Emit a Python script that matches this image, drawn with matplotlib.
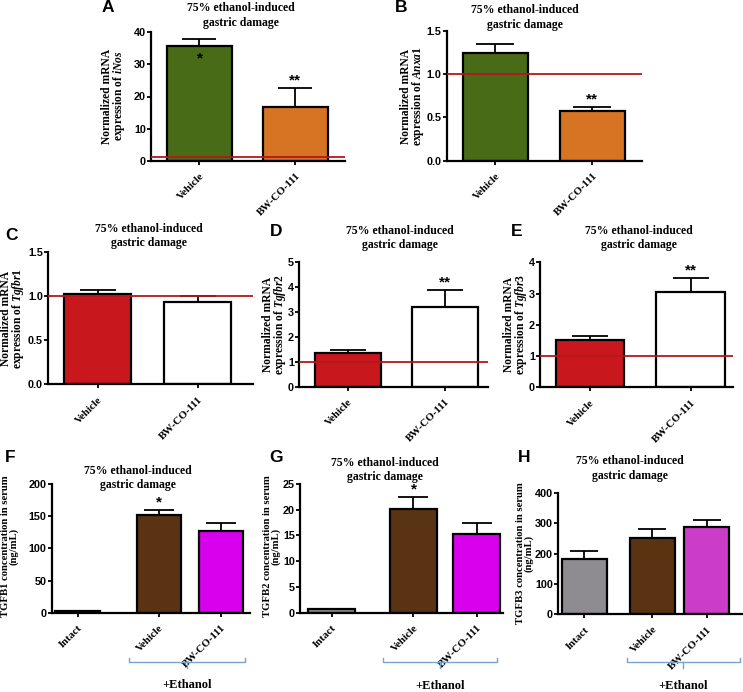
import matplotlib
matplotlib.use('Agg')
import matplotlib.pyplot as plt
import matplotlib.transforms as mtransforms

plt.rcParams['mathtext.fontset'] = 'custom'
plt.rcParams['mathtext.it'] = 'Liberation Serif:italic:bold'
plt.rcParams['mathtext.rm'] = 'Liberation Serif:bold'

SERIF = 'Liberation Serif'
SANS = 'Liberation Sans'

# ---------------- data ----------------
groups_2 = ["Vehicle", "BW-CO-111"]
groups_3 = ["Intact", "Vehicle", "BW-CO-111"]

inos_mean = [35.6, 16.6]
inos_sem = [2.4, 6.1]
anxa1_mean = [1.25, 0.575]
anxa1_sem = [0.10, 0.042]
tgfbr1_mean = [1.018, 0.928]
tgfbr1_sem = [0.049, 0.07]
tgfbr2_mean = [1.35, 3.20]
tgfbr2_sem = [0.12, 0.66]
tgfbr3_mean = [1.51, 3.04]
tgfbr3_sem = [0.14, 0.46]
tgfb1_mean = [2.6, 151.8, 127.0]
tgfb1_sem = [0.0, 8.0, 13.0]
tgfb2_mean = [0.66, 20.1, 15.2]
tgfb2_sem = [0.0, 2.3, 2.2]
tgfb3_mean = [183, 250, 289]
tgfb3_sem = [24, 30, 22]

reference_level = 1.0
title_text = "75% ethanol-induced\ngastric damage"

W, H = 743, 692
fig = plt.figure(figsize=(W / 100, H / 100), dpi=100)


def add_ax(left, right, top, bottom):
    return fig.add_axes([left / W, 1 - bottom / H, (right - left) / W, (bottom - top) / H])


def fx(x):
    return x / W


def fy(y):
    return 1 - y / H


def panel(box, pos, width, xlim, labels, means, sems, colors, ylim, yticks, ylab,
          ylab_xy, title_xy, letter, letter_xy, refline=False, stars=None,
          inside_star=None, capsize=12, bracket=None, ylab_size=8.3, ylab_ls=0.9):
    ax = add_ax(*box)
    ax.bar(pos, means, width=width, color=colors, edgecolor='black', linewidth=1.6, zorder=2)
    ax.errorbar(pos, means, yerr=[[0] * len(means), sems], fmt='none', ecolor='black',
                elinewidth=1.3, capsize=capsize, capthick=1.3, zorder=1)
    if refline:
        ax.axhline(reference_level, color='#b5161c', lw=1.3, zorder=3)
    ax.set_xlim(*xlim)
    ax.set_ylim(*ylim)
    ax.set_yticks(yticks)
    ax.set_xticks(pos)
    ax.set_xticklabels(labels, rotation=45, ha='right', va='top', rotation_mode='anchor',
                       fontfamily=SERIF, fontweight='bold', fontsize=7.8)
    for lab in ax.get_yticklabels():
        lab.set_fontfamily(SANS)
        lab.set_fontweight('bold')
        lab.set_fontsize(7.8)
    ax.tick_params(axis='both', direction='out', length=2.8, width=1.3, pad=0.8)
    ax.tick_params(axis='x', pad=5)
    for s in ['top', 'right']:
        ax.spines[s].set_visible(False)
    for s in ['left', 'bottom']:
        ax.spines[s].set_linewidth(1.6)
    ax.patch.set_alpha(0)
    if stars:
        for i, st in stars:
            ax.annotate(st, (pos[i], means[i] + sems[i]), xytext=(0, 0.5),
                        textcoords='offset points', ha='center', va='bottom',
                        fontfamily=SANS, fontweight='bold', fontsize=11)
    if inside_star is not None:
        i, st = inside_star
        ax.annotate(st, (pos[i], means[i]), xytext=(0, -14), textcoords='offset points',
                    ha='center', va='bottom', fontfamily=SANS, fontweight='bold', fontsize=11)
    fig.text(fx(ylab_xy[0]), fy(ylab_xy[1]), ylab, rotation=90, ha='center', va='center',
             fontfamily=SERIF, fontweight='bold', fontsize=ylab_size, linespacing=ylab_ls)
    fig.text(fx(title_xy[0]), fy(title_xy[1]), title_text, ha='center', va='center',
             fontfamily=SERIF, fontweight='bold', fontsize=8.5, linespacing=1.3)
    fig.text(fx(letter_xy[0]), fy(letter_xy[1]), letter, ha='center', va='center',
             fontfamily=SANS, fontweight='bold', fontsize=12.5)
    if bracket is not None:
        x0, x1, ybr, txt_y = bracket
        top, bottom = box[2], box[3]
        yf = (bottom - ybr) / (bottom - top)
        dy = 4 / (bottom - top)
        tr = mtransforms.blended_transform_factory(ax.transData, ax.transAxes)
        bc = '#7aa3cf'
        xm = (x0 + x1) / 2
        ax.plot([x0, x0, x1, x1], [yf + dy, yf, yf, yf + dy], color=bc, lw=1.0,
                transform=tr, clip_on=False)
        ax.plot([xm, xm], [yf, yf - 1.5 * dy], color=bc, lw=1.0, transform=tr, clip_on=False)
        tf = (bottom - txt_y) / (bottom - top)
        ax.text(xm, tf, "+Ethanol", transform=tr, ha='center', va='center',
                fontfamily=SERIF, fontweight='bold', fontsize=9)
    return ax


GREEN = '#476b16'
ORANGE = '#d67424'
RED = '#c8171d'
WHITE = '#ffffff'
GRAY = '#8e8c91'
BROWN = '#5a3312'
MAG1 = '#d900ee'
MAG2 = '#cb3cc8'

# A
panel((151, 345, 32.3, 160.7), [0, 1], 0.68, (-0.505, 1.516), groups_2, inos_mean, inos_sem,
      [GREEN, ORANGE], (0, 40), [0, 10, 20, 30, 40],
      "Normalized mRNA\nexpression of $\\mathit{iNos}$", (114, 96), (241, 15.5), 'A', (108, 7),
      refline=True, stars=[(1, '**')], inside_star=(0, '*'), capsize=12)
# B
panel((446.7, 642, 31, 160.7), [0, 1], 0.67, (-0.50, 1.51), groups_2, anxa1_mean, anxa1_sem,
      [GREEN, ORANGE], (0, 1.5), [0.0, 0.5, 1.0, 1.5],
      "Normalized mRNA\nexpression of $\\mathit{Anxa1}$", (413, 96), (525, 17.5), 'B', (401, 7),
      refline=True, stars=[(1, '**')], capsize=14)
# C
panel((48, 253, 251.7, 384.3), [0, 1], 0.67, (-0.495, 1.555), groups_2, tgfbr1_mean, tgfbr1_sem,
      [RED, WHITE], (0, 1.5), [0.0, 0.5, 1.0, 1.5],
      "Normalized mRNA\nexpression of $\\mathit{Tgfbr1}$", (13, 318), (149, 236), 'C', (11, 235),
      refline=True, capsize=13)
# D
panel((299, 488, 261.7, 386.7), [0, 1], 0.68, (-0.5, 1.44), groups_2, tgfbr2_mean, tgfbr2_sem,
      [RED, WHITE], (0, 5), [0, 1, 2, 3, 4, 5],
      "Normalized mRNA\nexpression of $\\mathit{Tgfbr2}$", (275, 324), (400, 238), 'D', (276, 232),
      refline=True, stars=[(1, '**')], capsize=13)
# E
panel((540, 733, 262.3, 387.3), [0, 1], 0.68, (-0.495, 1.42), groups_2, tgfbr3_mean, tgfbr3_sem,
      [RED, WHITE], (0, 4), [0, 1, 2, 3, 4],
      "Normalized mRNA\nexpression of $\\mathit{Tgfbr3}$", (516, 324), (639, 238), 'E', (517, 232),
      refline=True, stars=[(1, '**')], capsize=13)
# F
panel((51.7, 250, 484, 612.7), [0, 1.31, 2.31], 0.72, (-0.42, 2.78), groups_3, tgfb1_mean, tgfb1_sem,
      [GRAY, BROWN, MAG1], (0, 200), [0, 50, 100, 150, 200],
      "TGFB1 concentration in serum\n(ng/mL)", (10, 546), (138, 478), 'F', (10, 457),
      stars=[(1, '*')], capsize=11, bracket=(0.83, 2.70, 661.7, 685),
      ylab_size=7.7, ylab_ls=0.85)
# G
panel((300, 503, 484, 612.7), [0, 1.3, 2.3], 0.75, (-0.5, 2.72), groups_3, tgfb2_mean, tgfb2_sem,
      [GRAY, BROWN, MAG1], (0, 25), [0, 5, 10, 15, 20, 25],
      "TGFB2 concentration in serum\n(ng/mL)", (272, 546), (385, 470), 'G', (276, 457),
      stars=[(1, '*')], capsize=11, bracket=(0.82, 2.63, 661.7, 686),
      ylab_size=7.7, ylab_ls=0.85)
# H
panel((558, 743, 493, 614), [0, 1.25, 2.25], 0.83, (-0.48, 2.92), groups_3, tgfb3_mean, tgfb3_sem,
      [GRAY, BROWN, MAG2], (0, 400), [0, 100, 200, 300, 400],
      "TGFB3 concentration in serum\n(ng/mL)", (525, 553), (630, 468.5), 'H', (524, 457),
      capsize=10, bracket=(0.79, 2.86, 661.7, 686),
      ylab_size=7.7, ylab_ls=0.85)

fig.savefig('out.png', dpi=100)
